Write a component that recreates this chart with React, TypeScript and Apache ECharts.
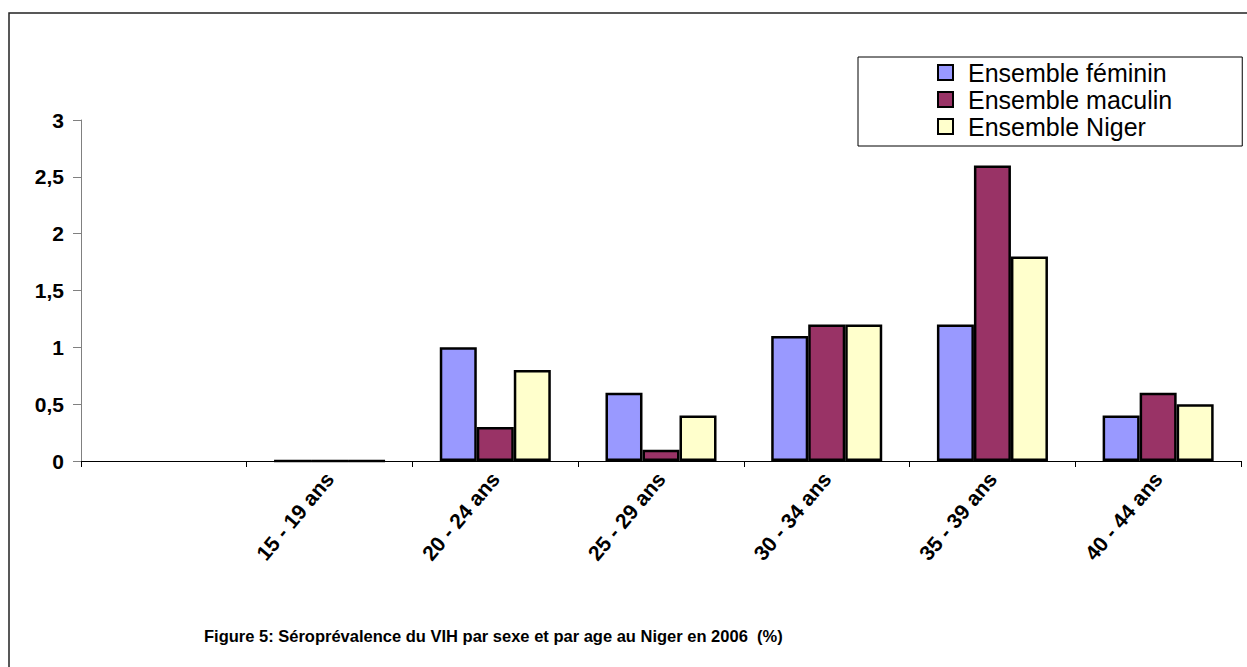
import React, { useEffect, useRef } from "react";
import * as echarts from "echarts";

const categories = ["", "15 - 19 ans", "20 - 24 ans", "25 - 29 ans", "30 - 34 ans", "35 - 39 ans", "40 - 44 ans"];
const feminin = [null, 0, 1, 0.6, 1.1, 1.2, 0.4];
const masculin = [null, 0, 0.3, 0.1, 1.2, 2.6, 0.6];
const niger = [null, 0, 0.8, 0.4, 1.2, 1.8, 0.5];
const seriesNames = ["Ensemble féminin", "Ensemble maculin", "Ensemble Niger"];
const colors = ["#9999FF", "#993366", "#FFFFCC"];
const titleText = "Figure 5: Séroprévalence du VIH par sexe et par age au Niger en 2006  (%)";

const FONT = "'Liberation Sans', Arial, sans-serif";

export default function App() {
  const ref = useRef<HTMLDivElement>(null);
  useEffect(() => {
    document.body.style.margin = "0";
    const chart = echarts.init(ref.current!, null, { renderer: "svg" });
    const values = [feminin, masculin, niger];
    chart.setOption({
      animation: false,
      backgroundColor: "#ffffff",
      textStyle: { fontFamily: FONT },
      title: {
        text: titleText,
        left: 204,
        top: 627,
        padding: 0,
        textStyle: { fontFamily: FONT, fontSize: 16.5, fontWeight: "bold", color: "#000" },
      },
      legend: {
        orient: "vertical",
        left: 858,
        top: 57,
        padding: [2, 70, 6, 79],
        borderColor: "#000",
        borderWidth: 1,
        itemWidth: 15,
        itemHeight: 15,
        itemGap: 0,
        icon: "rect",
        textStyle: { fontFamily: FONT, fontSize: 25, lineHeight: 27, color: "#000", padding: [0, 0, 0, 10] },
        data: seriesNames,
      },
      grid: { left: 81, right: 6, top: 120, bottom: 206, containLabel: false },
      xAxis: {
        type: "category",
        data: categories,
        boundaryGap: true,
        axisLine: { lineStyle: { color: "#000", width: 1 } },
        axisTick: { show: true, length: 6, lineStyle: { color: "#000" }, alignWithLabel: false },
        axisLabel: {
          interval: 0,
          rotate: 50,
          margin: 14,
          fontFamily: FONT,
          fontSize: 21,
          fontWeight: "bold",
          color: "#000",
        },
      },
      yAxis: {
        type: "value",
        min: 0,
        max: 3,
        interval: 0.5,
        splitLine: { show: false },
        axisLine: { show: true, lineStyle: { color: "#808080", width: 1 } },
        axisTick: { show: true, length: 8, lineStyle: { color: "#808080" } },
        axisLabel: {
          margin: 17,
          fontFamily: FONT,
          fontSize: 21,
          fontWeight: "bold",
          color: "#000",
          formatter: (v: number) => String(v).replace(".", ","),
        },
      },
      series: seriesNames.map((name, i) => ({
        name,
        type: "bar",
        data: values[i],
        barCategoryGap: "33%",
        barGap: "0%",
        itemStyle: { color: colors[i], borderColor: "#000", borderWidth: 2.5 },
      })),
      graphic: [
        {
          type: "rect",
          shape: { x: 9, y: 13, width: 1300, height: 700 },
          style: { fill: "none", stroke: "#222", lineWidth: 1.5 },
          silent: true,
        },
      ],
    });
    return () => chart.dispose();
  }, []);
  return <div ref={ref} style={{ width: 1247, height: 667, position: "absolute", left: 0, top: 0 }} />;
}
